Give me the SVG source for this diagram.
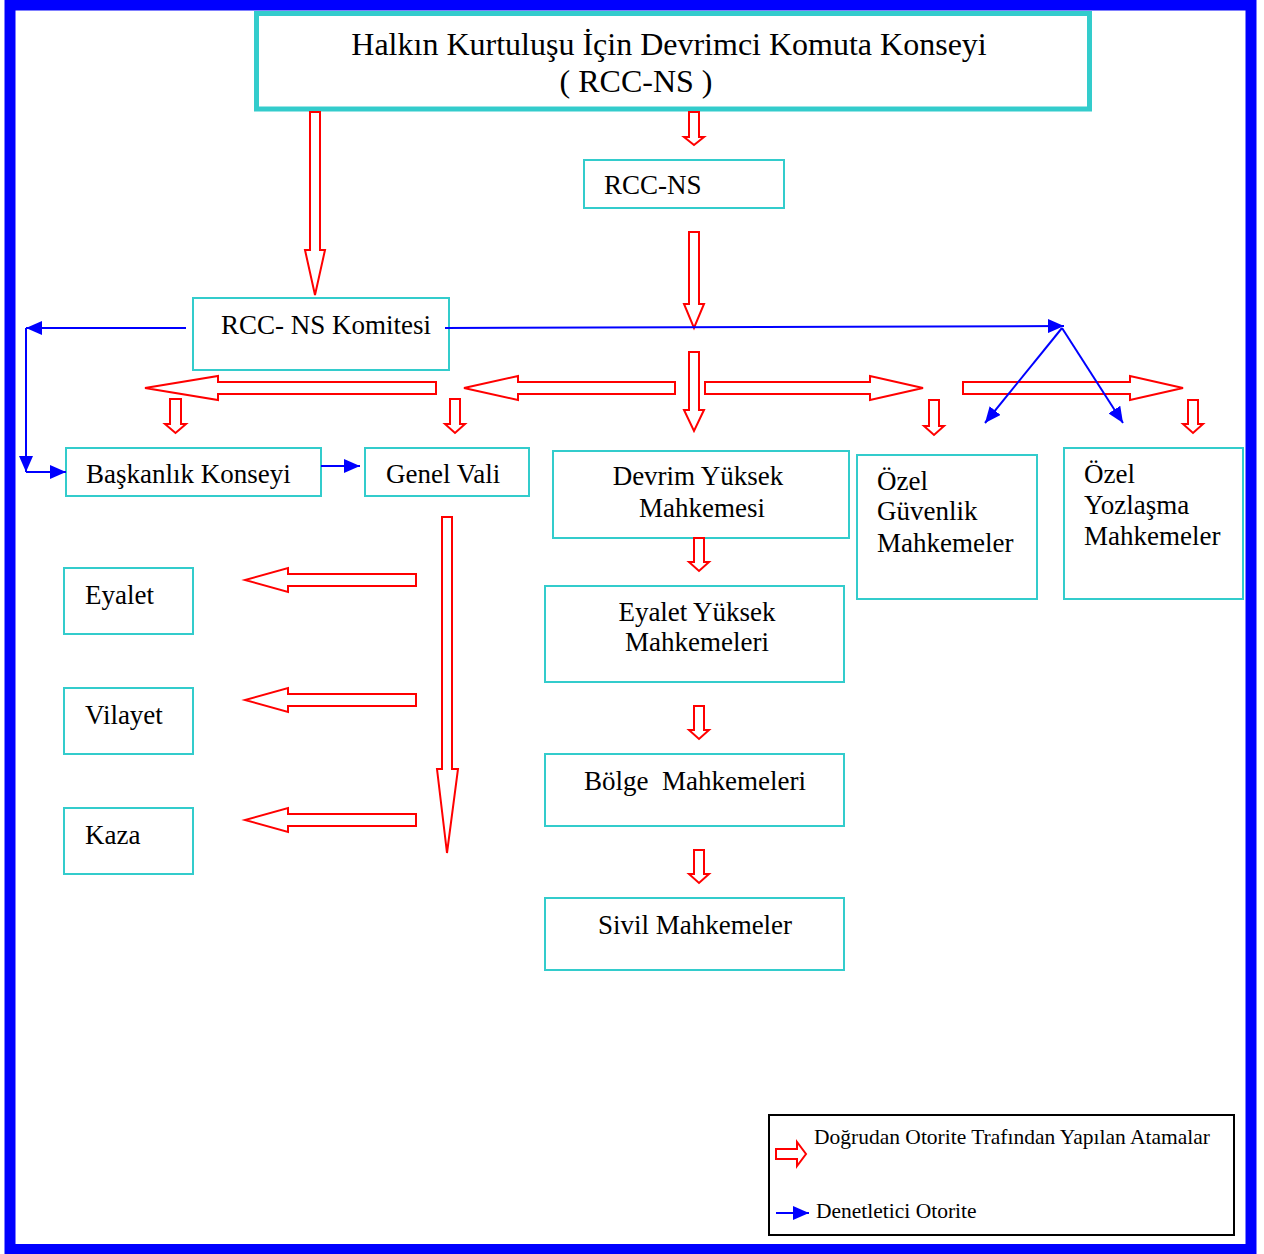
<svg xmlns="http://www.w3.org/2000/svg" width="1264" height="1254" viewBox="0 0 1264 1254">
<style>
.box{fill:#fff;stroke:#33CCCC;stroke-width:2}
.t{font-family:"Liberation Serif","Times New Roman",serif;font-size:27px;fill:#000}
.lg{font-size:21.5px}
.ra{fill:#fff;stroke:#FF0000;stroke-width:2;stroke-linejoin:miter}
.bl{fill:none;stroke:#0000FF;stroke-width:2}
.m{text-anchor:middle}
</style>
<defs>
<marker id="bh" viewBox="0 0 16 14" refX="16" refY="7" markerWidth="16" markerHeight="14" markerUnits="userSpaceOnUse" orient="auto">
<path d="M0,0 L16,7 L0,14 z" fill="#0000FF"/>
</marker>
</defs>
<rect x="0" y="0" width="1264" height="1254" fill="#fff"/>
<rect x="10" y="5" width="1241" height="1244.5" fill="#fff" stroke="#0000FF" stroke-width="11"/>

<g id="title">
<rect x="256.5" y="13.5" width="833" height="95.5" fill="#fff" stroke="#33CCCC" stroke-width="5"/>
<text class="t m" x="669" y="55" style="font-size:32px">Halkın Kurtuluşu İçin Devrimci Komuta Konseyi</text>
<text class="t m" x="636" y="92" style="font-size:32px">( RCC-NS )</text>
</g>
<g id="rccns">
<rect class="box" x="584" y="160" width="200" height="48"/>
<text class="t" x="604" y="194">RCC-NS</text>
</g>
<g id="komitesi">
<rect class="box" x="193" y="298" width="256" height="72"/>
<text class="t" x="221" y="334">RCC- NS Komitesi</text>
</g>
<g id="baskanlik">
<rect class="box" x="66" y="448" width="255" height="48"/>
<text class="t" x="86" y="483">Başkanlık Konseyi</text>
</g>
<g id="genelvali">
<rect class="box" x="365" y="448" width="164" height="48"/>
<text class="t" x="386" y="483">Genel Vali</text>
</g>
<g id="devrim">
<rect class="box" x="553" y="451" width="296" height="87"/>
<text class="t m" x="698" y="485">Devrim Yüksek</text>
<text class="t m" x="702" y="517">Mahkemesi</text>
</g>
<g id="eyaletyuksek">
<rect class="box" x="545" y="586" width="299" height="96"/>
<text class="t m" x="697" y="621">Eyalet Yüksek</text>
<text class="t m" x="697" y="651">Mahkemeleri</text>
</g>
<g id="bolge">
<rect class="box" x="545" y="754" width="299" height="72"/>
<text class="t m" x="695" y="790">Bölge&#160; Mahkemeleri</text>
</g>
<g id="sivil">
<rect class="box" x="545" y="898" width="299" height="72"/>
<text class="t m" x="695" y="934">Sivil Mahkemeler</text>
</g>
<g id="ozelguvenlik">
<rect class="box" x="857" y="455" width="180" height="144"/>
<text class="t" x="877" y="490">Özel</text>
<text class="t" x="877" y="520">Güvenlik</text>
<text class="t" x="877" y="552">Mahkemeler</text>
</g>
<g id="ozelyozlasma">
<rect class="box" x="1064" y="448" width="179" height="151"/>
<text class="t" x="1084" y="483">Özel</text>
<text class="t" x="1084" y="514">Yozlaşma</text>
<text class="t" x="1084" y="545">Mahkemeler</text>
</g>
<g id="eyalet">
<rect class="box" x="64" y="568" width="129" height="66"/>
<text class="t" x="85" y="604">Eyalet</text>
</g>
<g id="vilayet">
<rect class="box" x="64" y="688" width="129" height="66"/>
<text class="t" x="85" y="724">Vilayet</text>
</g>
<g id="kaza">
<rect class="box" x="64" y="808" width="129" height="66"/>
<text class="t" x="85" y="844">Kaza</text>
</g>

<g id="connectors">
<polygon class="ra" points="310,112 320,112 320,250 325,250 315,295 305,250 310,250"/>
<polygon class="ra" points="689,112 699,112 699,137 704,137 694,145 684,137 689,137"/>
<polygon class="ra" points="689,232 699,232 699,304 704,304 694,328 684,304 689,304"/>
<polygon class="ra" points="689,352 699,352 699,410 704,410 694,431 684,410 689,410"/>
<polygon class="ra" points="436,382 436,394 218,394 218,400 145,388 218,376 218,382"/>
<polygon class="ra" points="675,382 675,394 518,394 518,400 464,388 518,376 518,382"/>
<polygon class="ra" points="705,382 870,382 870,376 923,388 870,400 870,394 705,394"/>
<polygon class="ra" points="963,382 1130,382 1130,376 1183,388 1130,400 1130,394 963,394"/>
<polygon class="ra" points="170,399 181,399 181,424 186,424 175.5,433 165,424 170,424"/>
<polygon class="ra" points="450,399 460,399 460,424 465,424 455,433 445,424 450,424"/>
<polygon class="ra" points="929,400 939,400 939,426 944,426 934,435 924,426 929,426"/>
<polygon class="ra" points="1188,400 1198,400 1198,424 1203,424 1193,433 1183,424 1188,424"/>
<polygon class="ra" points="694,538 704,538 704,562 709,562 699,571 689,562 694,562"/>
<polygon class="ra" points="694,706 704,706 704,730 709,730 699,739 689,730 694,730"/>
<polygon class="ra" points="694,850 704,850 704,874 709,874 699,883 689,874 694,874"/>
<polygon class="ra" points="442,517 452,517 452,769 458,769 447,853 437,769 442,769"/>
<polygon class="ra" points="416,574 416,586 288,586 288,592 245,580 288,568 288,574"/>
<polygon class="ra" points="416,694 416,706 288,706 288,712 245,700 288,688 288,694"/>
<polygon class="ra" points="416,814 416,826 288,826 288,832 245,820 288,808 288,814"/>
<path class="bl" d="M186,328 H26" marker-end="url(#bh)"/>
<path class="bl" d="M26,328 V472" marker-end="url(#bh)"/>
<path class="bl" d="M26,472 H66" marker-end="url(#bh)"/>
<path class="bl" d="M321,466 H360" marker-end="url(#bh)"/>
<path class="bl" d="M445,328 L1064,326" marker-end="url(#bh)"/>
<path class="bl" d="M1062,328 L985,423" marker-end="url(#bh)"/>
<path class="bl" d="M1062,328 L1123,423" marker-end="url(#bh)"/>
</g>

<g id="legend">
<rect x="769" y="1115" width="465" height="120" fill="#fff" stroke="#000" stroke-width="2"/>
<polygon class="ra" points="776,1149 797,1149 797,1142 806,1154 797,1166 797,1159 776,1159"/>
<text class="t lg" x="814" y="1144">Doğrudan Otorite Trafından Yapılan Atamalar</text>
<path class="bl" d="M776,1213 H809" marker-end="url(#bh)"/>
<text class="t lg" x="816" y="1218">Denetletici Otorite</text>
</g>
</svg>
